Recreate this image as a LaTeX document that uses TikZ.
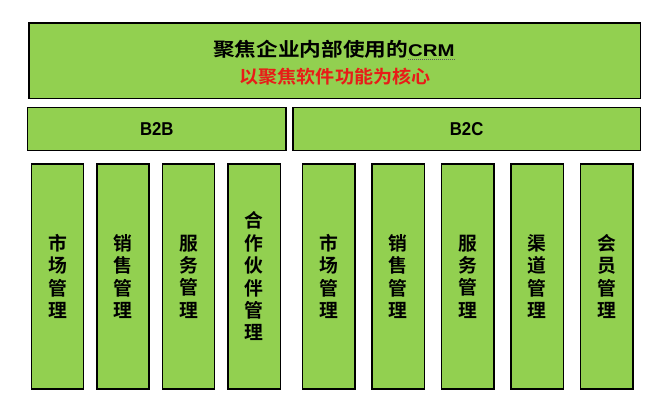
\documentclass[tikz,border=0pt]{standalone}
\usepackage{fontspec}
\setmainfont{Liberation Sans}
\newfontfamily\cjk{Noto Sans CJK SC Bold}
\newfontfamily\cjkT{Noto Sans CJK SC Bold}[FakeStretch=1.14]
\newfontfamily\cjkS{Noto Sans CJK SC Bold}[FakeStretch=1.06]
\newfontfamily\latT{Liberation Sans Bold}[FakeStretch=1.2]
\newfontfamily\latB{Liberation Sans Bold}[FakeStretch=0.9]
\definecolor{boxgreen}{HTML}{92D050}
\definecolor{subred}{RGB}{232,28,24}
\begin{document}
\begin{tikzpicture}[x=1pt,y=-1pt,
  box/.style={draw=black,fill=boxgreen,line width=1.6pt,inner sep=0pt,outer sep=0pt},
  col/.style={box,minimum width=52.3pt,minimum height=225pt,align=center,
    font=\cjk\fontsize{18.8}{22.4}\selectfont},
  seg/.style={box,minimum height=43pt,font=\latB\fontsize{18.6}{20}\selectfont},
  txt/.style={inner sep=0pt,outer sep=0pt}]
\useasboundingbox (0,0) rectangle (662,406);
% top box
\node[box,minimum width=611.5pt,minimum height=75.5pt] (top) at (334.75,60.75) {};
\node[txt,anchor=west,font=\cjkT\fontsize{19}{22}\selectfont] (title) at (213.25,49.5) {聚焦企业内部使用的};
\node[txt,anchor=base west,font=\latT\fontsize{17}{20}\selectfont] (crm) at (title.base east) {CRM};
\draw[black!65,line width=1pt,dash pattern=on 1pt off 1pt] ([yshift=-2.5pt]crm.base west) -- ([yshift=-2.5pt]crm.base east);
\node[txt,text=subred,font=\cjkS\fontsize{18}{22}\selectfont] (sub) at (335,77) {以聚焦软件功能为核心};
% B2B / B2C
\node[seg,minimum width=258.5pt] (b2b) at (156.75,129) {B2B};
\node[seg,minimum width=347.8pt] (b2c) at (466.6,129) {B2C};
% columns
\node[col] (c1) at (57.5,276.5) {市\\场\\管\\理};
\node[col] (c2) at (123,276.5) {销\\售\\管\\理};
\node[col] (c3) at (188.5,276.5) {服\\务\\管\\理};
\node[col] (c4) at (254.15,276.5) {合\\作\\伙\\伴\\管\\理};
\node[col] (c5) at (328.65,276.5) {市\\场\\管\\理};
\node[col] (c6) at (398.15,276.5) {销\\售\\管\\理};
\node[col] (c7) at (467.8,276.5) {服\\务\\管\\理};
\node[col] (c8) at (537.15,276.5) {渠\\道\\管\\理};
\node[col] (c9) at (606.6,276.5) {会\\员\\管\\理};
\end{tikzpicture}
\end{document}
